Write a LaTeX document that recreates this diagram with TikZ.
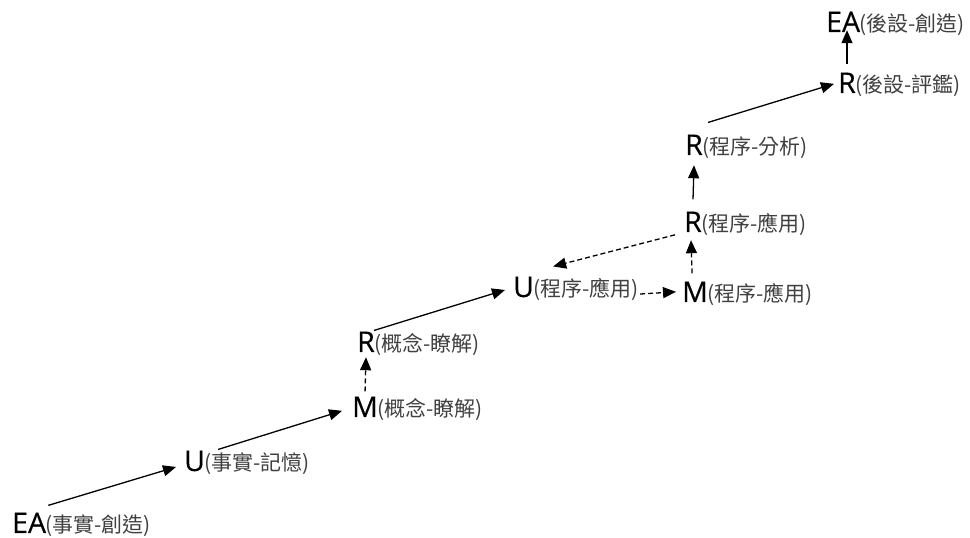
\documentclass[tikz,border=0pt]{standalone}
\usepackage{fontspec}
\setmainfont{Noto Sans CJK TC}
\newfontfamily\letfont{Open Sans}[FakeBold=0.4]
\usetikzlibrary{arrows.meta,calc}
\definecolor{txtgray}{RGB}{64,64,64}
\tikzset{
  lett/.style={anchor=base west, inner sep=0pt, font=\letfont\fontsize{28.5}{30}\selectfont, text=black},
  lbl/.style={anchor=base west, inner sep=0pt, font=\fontsize{21}{24}\selectfont, text=txtgray},
  conn/.style={line width=1.3pt, draw=black, -{Triangle[length=13pt,width=11pt]}},
  dconn/.style={conn, dash pattern=on 5pt off 3pt},
}
\begin{document}
\begin{tikzpicture}[x=1pt,y=1pt]
\useasboundingbox (0,0) rectangle (970,538);
% letters
\node[lett] (ea1) at (12,5) {EA};
\node[lbl] (ea1t) at ([xshift=-1pt]ea1.base east) {(事實-創造)};
\node[lett] (u1) at (184,67) {U};
\node[lbl] (u1t) at ([xshift=-1pt]u1.base east) {(事實-記憶)};
\node[lett] (m1) at (352,121) {M};
\node[lbl] (m1t) at ([xshift=-1pt]m1.base east) {(概念-瞭解)};
\node[lett] (r1) at (357,186) {R};
\node[lbl] (r1t) at ([xshift=-1pt]r1.base east) {(概念-瞭解)};
\node[lett] (u2) at (513,241) {U};
\node[lbl] (u2t) at ([xshift=-1pt]u2.base east) {(程序-應用)};
\node[lett] (m2) at (682,236) {M};
\node[lbl] (m2t) at ([xshift=-1pt]m2.base east) {(程序-應用)};
\node[lett] (r2) at (684,306) {R};
\node[lbl] (r2t) at ([xshift=-1pt]r2.base east) {(程序-應用)};
\node[lett] (r3) at (685,383) {R};
\node[lbl] (r3t) at ([xshift=-1pt]r3.base east) {(程序-分析)};
\node[lett] (r4) at (838,445) {R};
\node[lbl] (r4t) at ([xshift=-1pt]r4.base east) {(後設-評鑑)};
\node[lett] (ea2) at (826,506) {EA};
\node[lbl] (ea2t) at ([xshift=-1pt]ea2.base east) {(後設-創造)};
% connectors
\draw[conn] ($(ea1.north east)+(2,7)$) -- ($(u1.west)+(-8,-6)$);
\draw[conn] ($(u1.north east)+(13,1)$) -- ($(m1.west)+(-10,-4)$);
\draw[dconn] ($(m1.north)+(0,5)$) -- ($(r1.south)+(0,-5)$);
\draw[conn] ($(r1.north east)+(-1,1)$) -- ($(u2.west)+(-8,-3)$);
\draw[dconn] ($(u2t.east)+(1,-4)$) -- ($(m2.west)+(-6,0)$);
\draw[dconn] ($(m2.north)+(-3,8)$) -- ($(r2.south)+(-2,-8)$);
\draw[dconn] ($(r2.west)+(-9,-13)$) -- ($(u2.north east)+(19,10)$);
\draw[conn] ($(r2.north)+(0,12)$) -- ($(r3.south)+(0,-10)$);
\draw[conn] ($(r3.north east)+(5,12)$) -- ($(r4.west)+(-4,-1)$);
\draw[conn] ($(r4.north)+(0,8)$) -- ($(r4.north |- ea2.south)+(0,2)$);
\end{tikzpicture}
\end{document}
